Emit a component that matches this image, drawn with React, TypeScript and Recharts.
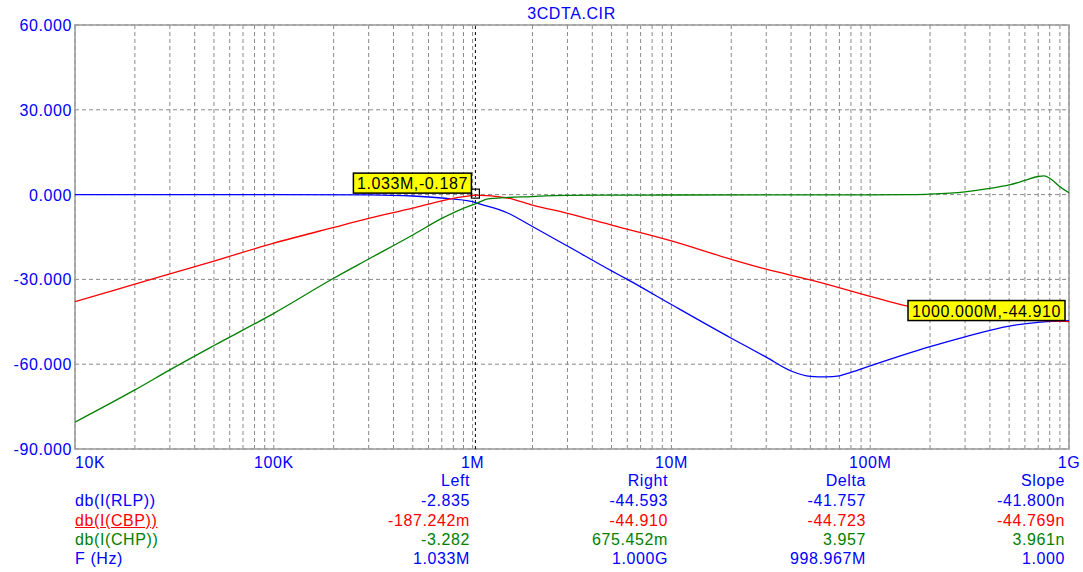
import React from 'react'
import { LineChart, Line, XAxis, YAxis, CartesianGrid, ReferenceLine, ReferenceDot, ReferenceArea } from 'recharts'

// db(I(RLP)) - low pass (blue)
const rlpFreq = [1e4, 1e5, 3e5, 5e5, 7e5, 1e6, 1.033e6, 1.5e6, 2e6, 3e6, 5e6, 6e6, 1e7, 2e7, 3e7, 4e7, 5e7, 6e7, 7e7, 8e7, 1e8, 2e8, 3e8, 5e8, 7e8, 1e9]
const rlpDb = [0, 0, -0.1, -0.5, -1.2, -2.5, -2.835, -6.5, -11.3, -18.2, -27.0, -30.0, -38.9, -50.8, -57.5, -62.4, -64.3, -64.5, -64.1, -62.9, -60.6, -53.8, -50.3, -46.5, -45.2, -44.593]

// db(I(CBP)) - band pass (red)
const cbpFreq = [1e4, 2e4, 5e4, 1e5, 2e5, 3e5, 5e5, 7e5, 1e6, 1.033e6, 1.5e6, 2e6, 3e6, 5e6, 1e7, 2e7, 3e7, 5e7, 1e8, 1.5e8, 2e8, 3e8, 5e8, 7e8, 1e9]
const cbpDb = [-37.9, -31.7, -23.5, -17.2, -11.6, -8.4, -4.8, -2.2, -0.3, -0.187, -1.2, -3.7, -6.6, -10.8, -16.4, -22.9, -26.4, -30.2, -36.0, -39.3, -40.8, -42.5, -43.9, -44.5, -44.91]

// db(I(CHP)) - high pass (green)
const chpFreq = [1e4, 2e4, 3e4, 5e4, 1e5, 2e5, 3e5, 5e5, 7e5, 1e6, 1.033e6, 1.2e6, 2e6, 3e6, 5e6, 1e7, 3e7, 1e8, 1.5e8, 2e8, 3e8, 4e8, 5e8, 6e8, 7e8, 7.5e8, 8e8, 9e8, 1e9]
const chpDb = [-80.5, -69.1, -62.0, -53.4, -42.0, -29.6, -22.8, -14.3, -8.4, -3.6, -3.282, -1.5, -0.7, -0.3, -0.2, -0.15, -0.1, -0.1, 0, 0.2, 1.0, 2.2, 3.4, 5.0, 6.4, 6.6, 5.8, 2.8, 0.675]

const decades = [1e4, 1e5, 1e6, 1e7, 1e8, 1e9]
const decadeLabels = ['10K', '100K', '1M', '10M', '100M', '1G']
const minorSteps = [2, 3, 4, 5, 6, 7, 8, 9]
const yTicks = [60, 30, 0, -30, -60, -90]

const tableHeaders = ['Left', 'Right', 'Delta', 'Slope']
const traceNames = ['db(I(RLP))', 'db(I(CBP))', 'db(I(CHP))', 'F (Hz)']
const leftValues = ['-2.835', '-187.242m', '-3.282', '1.033M']
const rightValues = ['-44.593', '-44.910', '675.452m', '1.000G']
const deltaValues = ['-41.757', '-44.723', '3.957', '998.967M']
const slopeValues = ['-41.800n', '-44.769n', '3.961n', '1.000']

const cursorLeft = { f: 1.033e6, db: -0.187, text: '1.033M,-0.187' }
const cursorRight = { f: 1e9, db: -44.91, text: '1000.000M,-44.910' }

const BLUE = '#0000ff'
const RED = '#ff0000'
const GREEN = '#008000'
const FONT = '"Liberation Sans", Arial, sans-serif'

const zip = (f: number[], v: number[]) => f.map((x, i) => ({ f: x, db: v[i] }))
const rlpData = zip(rlpFreq, rlpDb)
const cbpData = zip(cbpFreq, cbpDb)
const chpData = zip(chpFreq, chpDb)

// grid ticks: every 1..9 within each decade
const xTicks: number[] = []
decades.forEach((d, i) => {
  xTicks.push(d)
  if (i < decades.length - 1) minorSteps.forEach(m => xTicks.push(d * m))
})

const rowColors = [BLUE, RED, GREEN, BLUE]
const columns = [
  { right: 470, head: tableHeaders[0], vals: leftValues },
  { right: 668, head: tableHeaders[1], vals: rightValues },
  { right: 866, head: tableHeaders[2], vals: deltaValues },
  { right: 1065, head: tableHeaders[3], vals: slopeValues },
]
const rowY = [481, 501, 520.5, 540, 559]

const XTick = (props: any) => {
  const { x, y, payload } = props
  const idx = decades.indexOf(payload.value)
  if (idx < 0) return null
  return (
    <text x={x} y={y + 11} textAnchor={idx === 0 ? 'start' : 'middle'} fill={BLUE}
      fontFamily={FONT} fontSize={16} letterSpacing={0.6}>
      {decadeLabels[idx]}
    </text>
  )
}

const YTick = (props: any) => {
  const { x, y, payload } = props
  return (
    <text x={x + 5} y={y + 6} textAnchor="end" fill={BLUE} fontFamily={FONT} fontSize={16} letterSpacing={0.6}>
      {payload.value.toFixed(3)}
    </text>
  )
}

const cursorLabel = (text: string, w: number, dx: number, dy: number, square: boolean) => (p: any) => {
  const { cx, cy } = p
  return (
    <g>
      {square && <rect x={cx - 4} y={cy - 6} width={8} height={9} fill="none" stroke="#000" strokeWidth={1.2} />}
      <rect x={cx + dx} y={cy + dy} width={w} height={20} fill="#ffff00" stroke="#000" strokeWidth={1.5} />
      <text x={cx + dx + w / 2} y={cy + dy + 16} textAnchor="middle" fill="#000" fontFamily={FONT} fontSize={16} letterSpacing={0.6}>
        {text}
      </text>
    </g>
  )
}

const textStyle: React.CSSProperties = {
  position: 'absolute',
  fontFamily: FONT,
  fontSize: 16,
  letterSpacing: 0.6,
  lineHeight: '20px',
  whiteSpace: 'nowrap',
}

export default function App() {
  return (
    <div style={{ position: 'absolute', top: 0, left: 0, width: 1083, height: 572, background: '#fff' }}>
      <LineChart width={1083} height={572} margin={{ top: 25, right: 14, bottom: 103, left: 5 }}>
        <CartesianGrid stroke="#8a8a8a" strokeDasharray="4 3" />
        <XAxis dataKey="f" type="number" scale="log" domain={[1e4, 1e9]} ticks={xTicks}
          allowDataOverflow axisLine={false} tickLine={false} tick={<XTick />} height={20} interval={0} />
        <YAxis type="number" domain={[-90, 60]} ticks={yTicks} allowDataOverflow width={70}
          axisLine={false} tickLine={false} tick={<YTick />} interval={0} />
        <ReferenceArea x1={1e4} x2={1e9} y1={-90} y2={60} fill="none" stroke="#9a9a9a" strokeWidth={1.5} />
        <ReferenceLine x={cursorLeft.f} stroke="#000" strokeDasharray="3 3" />
        <Line data={rlpData} dataKey="db" type="monotone" stroke={BLUE} strokeWidth={1.3} dot={false} isAnimationActive={false} />
        <Line data={cbpData} dataKey="db" type="monotone" stroke={RED} strokeWidth={1.3} dot={false} isAnimationActive={false} />
        <Line data={chpData} dataKey="db" type="monotone" stroke={GREEN} strokeWidth={1.3} dot={false} isAnimationActive={false} />
        <ReferenceDot x={cursorLeft.f} y={cursorLeft.db} shape={cursorLabel(cursorLeft.text, 118, -122, -22, true)} />
        <ReferenceDot x={cursorRight.f} y={cursorRight.db} shape={cursorLabel(cursorRight.text, 157, -161, -21, false)} />
      </LineChart>

      <div style={{ ...textStyle, top: 4, left: 0, width: 1143, textAlign: 'center', color: BLUE }}>3CDTA.CIR</div>

      {traceNames.map((n, i) => (
        <div key={n} style={{ ...textStyle, top: rowY[i + 1] - 10, left: 75, color: rowColors[i],
          textDecoration: i === 1 ? 'underline' : 'none' }}>{n}</div>
      ))}
      {columns.map(c => (
        <React.Fragment key={c.head}>
          <div style={{ ...textStyle, top: rowY[0] - 10, right: 1083 - c.right, color: BLUE, textAlign: 'right' }}>{c.head}</div>
          {c.vals.map((v, i) => (
            <div key={i} style={{ ...textStyle, top: rowY[i + 1] - 10, right: 1083 - c.right, color: rowColors[i], textAlign: 'right' }}>{v}</div>
          ))}
        </React.Fragment>
      ))}
    </div>
  )
}
